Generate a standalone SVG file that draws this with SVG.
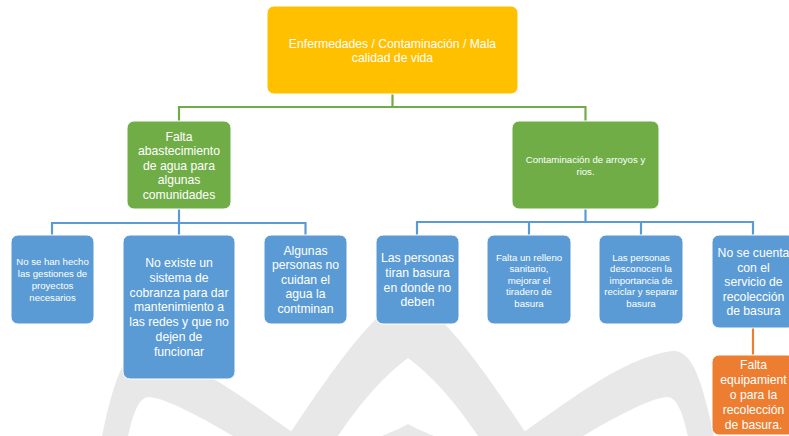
<svg xmlns="http://www.w3.org/2000/svg" width="789" height="436" viewBox="0 0 789 436">
<style>
  .wm { fill: #e8e8e8; fill-rule: evenodd; }
  .box { stroke: #ffffff; stroke-width: 1; }
  .yel { fill: #FFC000; }
  .grn { fill: #70AD47; }
  .blu { fill: #5B9BD5; }
  .org { fill: #ED7D31; }
  .t { font-family: "Liberation Sans", Arial, sans-serif; fill: #ffffff; text-anchor: middle; }
  .L { font-size: 12.2px; }
  .S { font-size: 9.6px; }
  .cg { stroke: #70AD47; stroke-width: 2.2; fill: none; }
  .cb { stroke: #5B9BD5; stroke-width: 2.2; fill: none; }
  .co { stroke: #ED7D31; stroke-width: 2.2; fill: none; }
</style>
<rect width="789" height="436" fill="#ffffff"/>
<g id="watermark">
  <path id="petal-right" class="wm" d="M 518 436 C 560 408, 620 358, 672 351 C 692 349, 702 380, 714 436 Z M 583 436 C 610 420, 650 398, 667 397 C 679 397, 684 420, 688 436 Z"/>
  <use href="#petal-right" transform="translate(816,0) scale(-1,1)"/>
  <path class="wm" d="M 288 436 C 326 380, 365 320, 408 292 C 451 320, 490 380, 528 436 Z M 338 436 C 362 400, 386 374, 408 358 C 430 374, 454 400, 478 436 Z"/>
  <path class="wm" d="M 382 436 C 394 431, 401 428, 408 424 C 415 428, 422 431, 434 436 Z"/>
</g>
<g id="connectors">
  <path class="cg" d="M 392.5 94 V 107 M 179 107 H 585.5 M 179 106 V 121 M 585.5 106 V 121"/>
  <path class="cb" d="M 179 209 V 223 M 52 223 H 305.5 M 52 222 V 235 M 179 222 V 235 M 305.5 222 V 235"/>
  <path class="cb" d="M 585.5 209 V 222 M 417 222 H 753 M 417 221 V 235 M 529 221 V 235 M 641 221 V 235 M 753 221 V 235"/>
  <path class="co" d="M 753 328 V 355"/>
</g>
<g id="n-top">
  <rect class="box yel" x="267" y="6" width="251" height="88" rx="7"/>
  <text class="t L"><tspan x="392.5" y="47.5">Enfermedades / Contaminación / Mala</tspan><tspan x="392.5" y="61.8">calidad de vida</tspan></text>
</g>
<g id="n-agua">
  <rect class="box grn" x="127" y="121" width="104" height="88" rx="7"/>
  <text class="t L"><tspan x="179" y="140.5">Falta</tspan><tspan x="179" y="155.1">abastecimiento</tspan><tspan x="179" y="169.7">de agua para</tspan><tspan x="179" y="184.3">algunas</tspan><tspan x="179" y="198.9">comunidades</tspan></text>
</g>
<g id="n-contaminacion">
  <rect class="box grn" x="512" y="121" width="147" height="88" rx="7"/>
  <text class="t S"><tspan x="585.5" y="162.5">Contaminación de arroyos y</tspan><tspan x="585.5" y="174.5">rios.</tspan></text>
</g>
<g id="n-gestiones">
  <rect class="box blu" x="11" y="235" width="83" height="89" rx="7"/>
  <text class="t S"><tspan x="52.5" y="264.5">No se han hecho</tspan><tspan x="52.5" y="276.7">las gestiones de</tspan><tspan x="52.5" y="288.9">proyectos</tspan><tspan x="52.5" y="301.1">necesarios</tspan></text>
</g>
<g id="n-cobranza">
  <rect class="box blu" x="123" y="235" width="112" height="144" rx="7"/>
  <text class="t L"><tspan x="179" y="267.3">No existe un</tspan><tspan x="179" y="282">sistema de</tspan><tspan x="179" y="296.7">cobranza para dar</tspan><tspan x="179" y="311.4">mantenimiento a</tspan><tspan x="179" y="326.1">las redes y que no</tspan><tspan x="179" y="340.8">dejen de</tspan><tspan x="179" y="355.5">funcionar</tspan></text>
</g>
<g id="n-cuidan">
  <rect class="box blu" x="264" y="235" width="83" height="89" rx="7"/>
  <text class="t L"><tspan x="305.5" y="254.5">Algunas</tspan><tspan x="305.5" y="269.1">personas no</tspan><tspan x="305.5" y="283.7">cuidan el</tspan><tspan x="305.5" y="298.3">agua la</tspan><tspan x="305.5" y="312.9">contminan</tspan></text>
</g>
<g id="n-tiran">
  <rect class="box blu" x="376" y="235" width="83" height="89" rx="7"/>
  <text class="t L"><tspan x="417.5" y="262.3">Las personas</tspan><tspan x="417.5" y="276.9">tiran basura</tspan><tspan x="417.5" y="291.5">en donde no</tspan><tspan x="417.5" y="306.1">deben</tspan></text>
</g>
<g id="n-relleno">
  <rect class="box blu" x="487" y="235" width="84" height="89" rx="7"/>
  <text class="t S"><tspan x="529" y="260.5">Falta un relleno</tspan><tspan x="529" y="272.1">sanitario,</tspan><tspan x="529" y="283.7">mejorar el</tspan><tspan x="529" y="295.3">tiradero de</tspan><tspan x="529" y="306.9">basura</tspan></text>
</g>
<g id="n-reciclar">
  <rect class="box blu" x="599" y="235" width="84" height="89" rx="7"/>
  <text class="t S"><tspan x="641" y="260.5">Las personas</tspan><tspan x="641" y="272.1">desconocen la</tspan><tspan x="641" y="283.7">importancia de</tspan><tspan x="641" y="295.3">reciclar y separar</tspan><tspan x="641" y="306.9">basura</tspan></text>
</g>
<g id="n-servicio">
  <rect class="box blu" x="712" y="235" width="83" height="93" rx="7"/>
  <text class="t L"><tspan x="753.5" y="257.3">No se cuenta</tspan><tspan x="753.5" y="271.8">con el</tspan><tspan x="753.5" y="286.3">servicio de</tspan><tspan x="753.5" y="300.8">recolección</tspan><tspan x="753.5" y="315.3">de basura</tspan></text>
</g>
<g id="n-equipamiento">
  <rect class="box org" x="712" y="355" width="83" height="80" rx="7"/>
  <text class="t L"><tspan x="753.5" y="369.3">Falta</tspan><tspan x="753.5" y="384.3">equipamient</tspan><tspan x="753.5" y="399.3">o para la</tspan><tspan x="753.5" y="414.3">recolección</tspan><tspan x="753.5" y="429.3">de basura.</tspan></text>
</g>
</svg>
